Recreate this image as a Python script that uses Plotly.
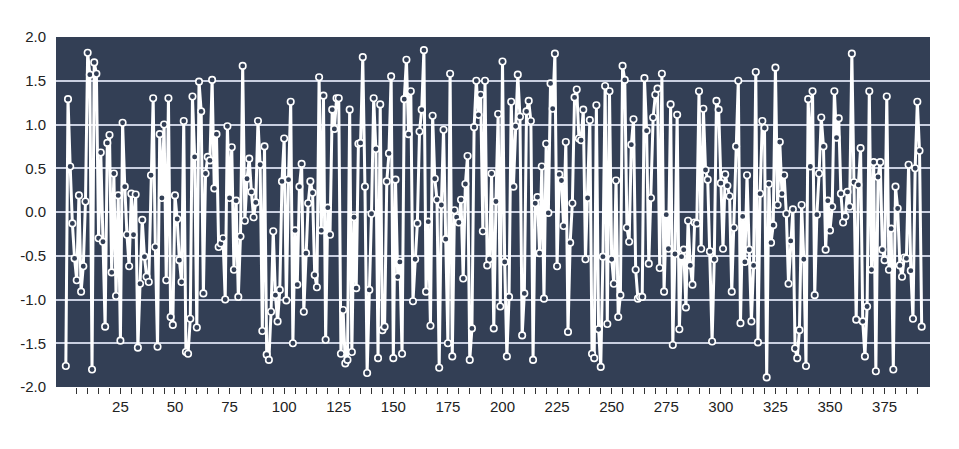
import plotly.graph_objects as go

values = [
    -1.76, 1.29, 0.52, -0.13, -0.53, -0.78, 0.19, -0.91, -0.62, 0.12,
    1.82, 1.57, -1.80, 1.71, 1.58, -0.30, 0.68, -0.34, -1.31, 0.79,
    0.88, -0.69, 0.44, -0.96, 0.19, -1.47, 1.02, 0.29, -0.26, -0.62,
    0.21, -0.26, 0.20, -1.55, -0.82, -0.09, -0.51, -0.74, -0.80, 0.42,
    1.30, -0.40, -1.54, 0.89, 0.16, 1.00, -0.78, 1.30, -1.20, -1.29,
    0.19, -0.08, -0.55, -0.80, 1.04, -1.60, -1.62, -1.22, 1.32, 0.63,
    -1.32, 1.49, 1.15, -0.93, 0.44, 0.63, 0.59, 1.51, 0.27, 0.89,
    -0.40, -0.36, -0.30, -1.00, 0.98, 0.16, 0.74, -0.66, 0.13, -0.97,
    -0.28, 1.67, -0.10, 0.38, 0.61, 0.23, -0.06, 0.11, 1.04, 0.54,
    -1.36, 0.75, -1.63, -1.69, -1.14, -0.22, -0.95, -1.25, -0.89, 0.35,
    0.84, -1.01, 0.37, 1.26, -1.50, -0.21, -0.83, 0.29, 0.55, -1.14,
    -0.47, 0.10, 0.35, 0.22, -0.72, -0.86, 1.54, -0.21, 1.33, -1.46,
    0.05, -0.26, 1.17, 0.95, 1.30, 1.30, -1.62, -1.12, -1.73, -1.69,
    1.17, -1.60, -0.06, -0.87, 0.78, 0.79, 1.77, 0.29, -1.84, -0.89,
    -0.02, 1.30, 0.72, -1.67, 1.23, -1.35, -1.31, 0.35, 0.67, 1.55,
    -1.67, 0.37, -0.74, -0.57, -1.62, 1.29, 1.74, 0.89, 1.38, -1.02,
    -0.54, -0.13, 0.92, 1.17, 1.85, -0.91, -0.11, -1.30, 1.10, 0.38,
    0.14, -1.78, 0.08, 0.94, -0.31, -1.50, 1.58, -1.65, 0.02, -0.06,
    -0.12, 0.14, -0.76, 0.32, 0.64, -1.69, -1.33, 0.97, 1.50, 1.11,
    1.34, -0.22, 1.50, -0.61, -0.54, 0.44, -1.33, 0.12, 1.12, -1.08,
    1.72, -0.57, -1.65, -0.97, 1.26, 0.29, 0.98, 1.57, 1.09, -1.41,
    -0.93, 1.15, 1.27, 1.04, -1.69, 0.10, 0.17, -0.47, 0.52, -0.99,
    0.78, -0.01, 1.47, 1.18, 1.81, -0.62, 0.43, 0.36, -0.16, 0.80,
    -1.37, -0.35, 0.10, 1.31, 1.40, 0.84, 0.82, 1.17, -0.54, 0.16,
    1.05, -1.62, -1.67, 1.22, -1.34, -1.77, -0.51, 1.44, -1.28, 1.38,
    -0.54, -0.82, 0.36, -1.20, -0.95, 1.67, 1.51, -0.18, -0.34, 0.77,
    1.06, -0.66, -0.99, -0.97, -0.97, 1.53, 0.93, -0.59, 0.16, 1.08,
    1.34, 1.41, -0.64, 1.58, -0.91, -0.03, -0.42, 1.23, -1.52, -0.48,
    1.11, -1.34, -0.51, -0.43, -1.09, -0.10, -0.61, -0.83, -0.12, -0.13,
    1.38, -0.42, 1.18, 0.48, 0.37, -0.45, -1.48, -0.54, 1.27, 1.17,
    0.33, -0.42, 0.43, 0.30, 0.18, -0.91, -0.18, 0.75, 1.50, -1.27,
    -0.05, -0.57, 0.42, -0.43, -1.25, -0.61, 1.60, -1.49, 0.21, 1.04,
    0.96, -1.89, 0.32, -0.35, -0.15, 1.65, 0.08, 0.80, 0.21, 0.42,
    -0.02, -0.82, -0.33, 0.03, -1.56, -1.67, -1.35, 0.08, -0.54, -1.76,
    1.29, 0.52, 1.38, -0.95, -0.03, 0.44, 1.08, 0.75, -0.43, 0.13,
    -0.21, 0.06, 1.38, 0.85, 1.07, 0.21, -0.12, -0.05, 0.23, 0.06,
    1.81, 0.34, -1.23, 0.31, 0.73, -1.25, -1.65, -1.08, 1.38, -0.66,
    0.57, -1.82, 0.40, 0.57, -0.43, -0.55, 1.32, -0.66, -0.19, -1.80,
    0.29, 0.04, -0.61, -0.74, -0.52, -0.53, 0.54, -0.67, -1.22, 0.50,
    1.26, 0.70, -1.31,
]
x_index = list(range(len(values)))

x_ticks = list(range(25, 400, 25))
minor_ticks = [v for v in range(5, 395, 5) if v % 25 != 0]
y_ticks = [-2.0, -1.5, -1.0, -0.5, 0.0, 0.5, 1.0, 1.5, 2.0]

BG = "#333f55"

fig = go.Figure(
    go.Scatter(
        x=x_index,
        y=values,
        mode="lines+markers",
        line=dict(color="white", width=3),
        marker=dict(symbol="circle", size=6.5, color=BG,
                    line=dict(color="white", width=1.6)),
        hoverinfo="x+y",
    )
)

fig.update_layout(
    width=951,
    height=441,
    margin=dict(l=44, r=29, t=29, b=62),
    paper_bgcolor="white",
    plot_bgcolor=BG,
    showlegend=False,
    font=dict(family="Liberation Sans, Arial, sans-serif", size=14, color="#222222"),
)

fig.update_xaxes(
    range=[-4.5, 395.8],
    tickmode="array",
    tickvals=x_ticks,
    ticktext=[str(v) for v in x_ticks],
    ticks="outside",
    ticklen=6,
    tickwidth=1,
    tickcolor="#333333",
    minor=dict(tickmode="array", tickvals=minor_ticks, ticks="outside",
               ticklen=6, tickwidth=1, tickcolor="#333333", showgrid=False),
    showgrid=False,
    zeroline=False,
    showline=False,
    tickfont=dict(size=15),
)

fig.update_yaxes(
    range=[-2.0, 2.0],
    tickmode="array",
    tickvals=y_ticks,
    ticktext=[f"{v:.1f}" for v in y_ticks],
    showgrid=True,
    gridcolor="#c9cfe0",
    gridwidth=2,
    zeroline=True,
    zerolinecolor="#c9cfe0",
    zerolinewidth=2,
    showline=False,
    ticks="outside",
    ticklen=6,
    tickcolor="rgba(0,0,0,0)",
    tickfont=dict(size=15),
)

fig.write_html("out.html")
